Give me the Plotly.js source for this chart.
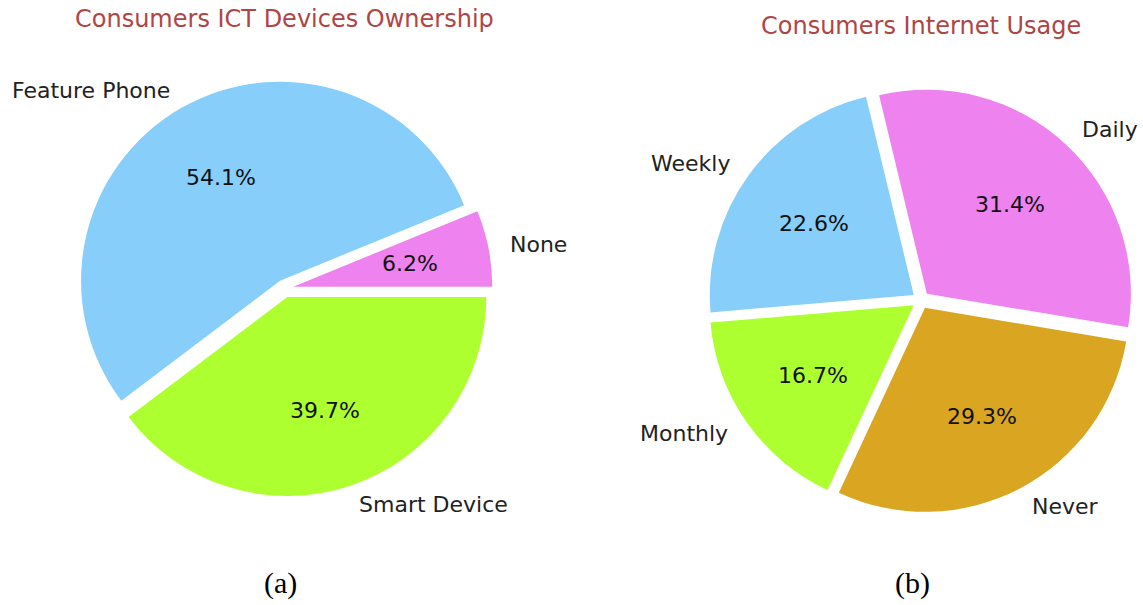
<!DOCTYPE html>
<html>
<head>
<meta charset="utf-8">
<script src="https://cdn.plot.ly/plotly-3.0.1.min.js"></script>
<style>html,body{margin:0;padding:0;background:#fff;}#chart{width:1143px;height:605px;}</style>
</head>
<body>
<div id="chart"></div>
<script>
// ---- data ----
var ownershipLabels = ["None", "Feature Phone", "Smart Device"];
var ownershipValues = [6.2, 54.1, 39.7];
var ownershipColors = ["#EE82EE", "#87CEFA", "#ADFF2F"];
var ownershipTitle = "Consumers ICT Devices Ownership";

var usageLabels = ["Daily", "Weekly", "Monthly", "Never"];
var usageValues = [31.4, 22.6, 16.7, 29.3];
var usageColors = ["#EE82EE", "#87CEFA", "#ADFF2F", "#DAA520"];
var usageTitle = "Consumers Internet Usage";

var captions = ["(a)", "(b)"];

// ---- layout geometry ----
var W = 1143, H = 605;
var FONT = "DejaVu Sans, Verdana, sans-serif";
var pies = [
  {labels: ownershipLabels, values: ownershipValues, colors: ownershipColors, title: ownershipTitle,
   cx: 284.5, cy: 288.5, r: 199, pull: 0.045, start: 0, titleY: 19, capX: 280},
  {labels: usageLabels, values: usageValues, colors: usageColors, title: usageTitle,
   cx: 920.9, cy: 300.1, r: 204, pull: 0.043, start: -9.5, titleY: 26, capX: 912.5}
];

var traces = [], annotations = [];
function px(x){ return x / W; }
function py(y){ return 1 - y / H; }

pies.forEach(function(p, k){
  var total = p.values.reduce(function(a,b){return a+b;}, 0);
  var half = p.r * (1 + p.pull);
  var a0 = p.values[0] / total * 360;
  traces.push({
    type: 'pie',
    labels: p.labels,
    values: p.values,
    sort: false,
    direction: 'counterclockwise',
    rotation: 90 - p.start - a0,
    pull: p.labels.map(function(){ return p.pull; }),
    marker: {colors: p.colors, line: {width: 0}},
    textinfo: 'none',
    hoverinfo: 'label+percent',
    domain: {x: [px(p.cx - half), px(p.cx + half)], y: [py(p.cy + half), py(p.cy - half)]}
  });
  var cum = p.start;
  p.values.forEach(function(v, i){
    var span = v / total * 360;
    var mid = (cum + span / 2) * Math.PI / 180;
    cum += span;
    var c = Math.cos(mid), s = Math.sin(mid);
    var ox = p.cx + p.pull * p.r * c, oy = p.cy - p.pull * p.r * s;
    annotations.push({
      xref: 'paper', yref: 'paper', showarrow: false,
      x: px(ox + 0.6 * p.r * c), y: py(oy - 0.6 * p.r * s),
      xanchor: 'center', yanchor: 'middle',
      text: (v / total * 100).toFixed(1) + '%',
      font: {family: FONT, size: 22, color: '#111'}
    });
    var lx = ox + 1.1 * p.r * c;
    annotations.push({
      xref: 'paper', yref: 'paper', showarrow: false,
      x: px(lx), y: py(oy - 1.1 * p.r * s),
      xanchor: (lx - p.cx) > 0 ? 'left' : 'right', yanchor: 'middle',
      text: p.labels[i],
      font: {family: FONT, size: 22, color: '#222'}
    });
  });
  annotations.push({
    xref: 'paper', yref: 'paper', showarrow: false,
    x: px(p.cx), y: py(p.titleY), xanchor: 'center', yanchor: 'middle',
    text: p.title, font: {family: FONT, size: 24, color: '#B04545'}
  });
  annotations.push({
    xref: 'paper', yref: 'paper', showarrow: false,
    x: px(p.capX), y: py(583), xanchor: 'center', yanchor: 'middle',
    text: captions[k], font: {family: "Liberation Serif, Times New Roman, serif", size: 30, color: '#000'}
  });
});

var layout = {
  width: W, height: H,
  margin: {l: 0, r: 0, t: 0, b: 0},
  showlegend: false,
  paper_bgcolor: '#fff',
  annotations: annotations
};
Plotly.newPlot('chart', traces, layout, {displayModeBar: false, staticPlot: true});
</script>
</body>
</html>
